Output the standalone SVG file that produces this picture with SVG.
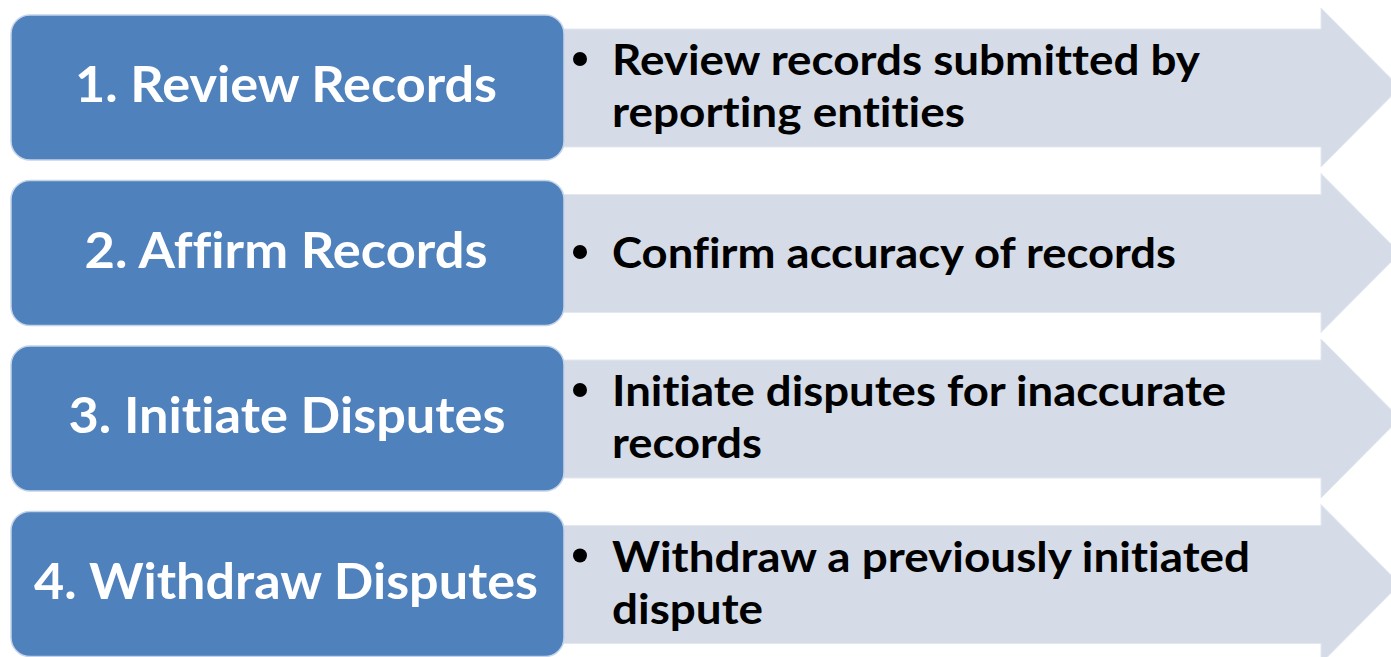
<svg xmlns="http://www.w3.org/2000/svg" width="1391" height="657" viewBox="0 0 1391 657">
<style>
.arrow{fill:#D5DCE7;stroke:#E3E8F0;stroke-width:1}
.box{fill:#4F81BD;stroke:#C3D3E8;stroke-width:1.5}
.lbl{font-family:Lato,"Open Sans",sans-serif;font-weight:700;font-size:49px;fill:#FFFFFF;text-anchor:middle;font-variant-ligatures:none}
.desc{font-family:Lato,"Open Sans",sans-serif;font-weight:700;font-size:42px;fill:#000000;font-variant-ligatures:none}
.bul{fill:#000000}
</style>
<rect width="1391" height="657" fill="#FFFFFF"/>
<g id="connectors">
<path class="arrow" d="M540 29H1321V8L1400 87.5L1321 167V147H540Z"/>
<path class="arrow" d="M540 194.5H1321V173.5L1400 253L1321 332.5V312.5H540Z"/>
<path class="arrow" d="M540 360H1321V339L1400 418.5L1321 498V478H540Z"/>
<path class="arrow" d="M540 525.5H1321V504.5L1400 584L1321 663.5V643.5H540Z"/>
</g>
<g id="node1">
<rect class="box" x="11" y="15" width="553" height="145" rx="19"/>
<text class="lbl" x="286" y="102" textLength="422" lengthAdjust="spacingAndGlyphs">1. Review Records</text>
<circle class="bul" cx="580" cy="59" r="7"/>
<text class="desc" x="612" y="75" textLength="588" lengthAdjust="spacingAndGlyphs">Review records submitted by</text>
<text class="desc" x="612" y="127" textLength="353" lengthAdjust="spacingAndGlyphs">reporting entities</text>
</g>
<g id="node2">
<rect class="box" x="11" y="180.5" width="553" height="145" rx="19"/>
<text class="lbl" x="286" y="267.5" textLength="403" lengthAdjust="spacingAndGlyphs">2. Affirm Records</text>
<circle class="bul" cx="580" cy="252" r="7"/>
<text class="desc" x="612" y="268" textLength="564" lengthAdjust="spacingAndGlyphs">Confirm accuracy of records</text>
</g>
<g id="node3">
<rect class="box" x="11" y="346" width="553" height="145" rx="19"/>
<text class="lbl" x="287" y="433" textLength="437" lengthAdjust="spacingAndGlyphs">3. Initiate Disputes</text>
<circle class="bul" cx="580" cy="390" r="7"/>
<text class="desc" x="612" y="406" textLength="614" lengthAdjust="spacingAndGlyphs">Initiate disputes for inaccurate</text>
<text class="desc" x="612" y="458" textLength="150" lengthAdjust="spacingAndGlyphs">records</text>
</g>
<g id="node4">
<rect class="box" x="11" y="511.5" width="553" height="145" rx="19"/>
<text class="lbl" x="286" y="598.5" textLength="504" lengthAdjust="spacingAndGlyphs">4. Withdraw Disputes</text>
<circle class="bul" cx="580" cy="555.5" r="7"/>
<text class="desc" x="612" y="571.5" textLength="638" lengthAdjust="spacingAndGlyphs">Withdraw a previously initiated</text>
<text class="desc" x="612" y="623.5" textLength="151" lengthAdjust="spacingAndGlyphs">dispute</text>
</g>
</svg>
